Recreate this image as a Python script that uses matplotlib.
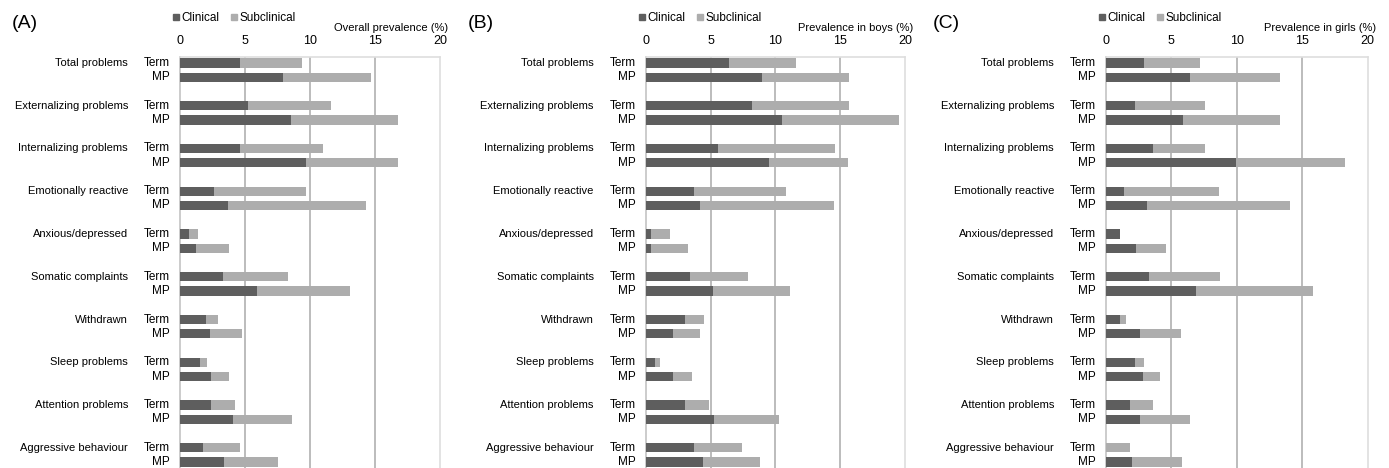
# === IMPORT LIBRARY ===
import numpy as np
import matplotlib
matplotlib.use("Agg")
import matplotlib.pyplot as plt
from matplotlib.lines import Line2D

plt.rcParams['font.family'] = ['Liberation Sans', 'DejaVu Sans']

# === DATA ===
categories = ["Total problems", "Externalizing problems", "Internalizing problems",
              "Emotionally reactive", "Anxious/depressed", "Somatic complaints",
              "Withdrawn", "Sleep problems", "Attention problems", "Aggressive behaviour"]
groups = ["Term", "MP"]
x_ticks = [0, 5, 10, 15, 20]

# (A) overall: clinical and total (clinical + subclinical)
overall_term_clin = [4.6, 5.2, 4.6, 2.6, 0.7, 3.3, 2.0, 1.5, 2.4, 1.8]
overall_term_tot = [9.4, 11.6, 11.0, 9.7, 1.4, 8.3, 2.9, 2.1, 4.2, 4.6]
overall_mp_clin = [7.9, 8.5, 9.7, 3.7, 1.2, 5.9, 2.3, 2.4, 4.1, 3.4]
overall_mp_tot = [14.7, 16.8, 16.8, 14.3, 3.8, 13.1, 4.8, 3.8, 8.6, 7.5]

# (B) boys
boys_term_clin = [6.4, 8.2, 5.6, 3.7, 0.4, 3.4, 3.0, 0.7, 3.0, 3.7]
boys_term_tot = [11.6, 15.7, 14.6, 10.8, 1.9, 7.9, 4.5, 1.1, 4.9, 7.4]
boys_mp_clin = [9.0, 10.5, 9.5, 4.2, 0.4, 5.2, 2.1, 2.1, 5.3, 4.4]
boys_mp_tot = [15.7, 19.5, 15.6, 14.5, 3.3, 11.1, 4.2, 3.6, 10.3, 8.8]

# (C) girls
girls_term_clin = [2.9, 2.2, 3.6, 1.4, 1.1, 3.3, 1.1, 2.2, 1.8, 0.0]
girls_term_tot = [7.2, 7.6, 7.6, 8.6, 1.1, 8.7, 1.5, 2.9, 3.6, 1.8]
girls_mp_clin = [6.4, 5.9, 9.9, 3.1, 2.3, 6.9, 2.6, 2.8, 2.6, 2.0]
girls_mp_tot = [13.3, 13.3, 18.3, 14.1, 4.6, 15.8, 5.7, 4.1, 6.4, 5.8]

panels = [
    ("(A)", "Overall prevalence (%)", overall_term_clin, overall_term_tot, overall_mp_clin, overall_mp_tot),
    ("(B)", "Prevalence in boys (%)", boys_term_clin, boys_term_tot, boys_mp_clin, boys_mp_tot),
    ("(C)", "Prevalence in girls (%)", girls_term_clin, girls_term_tot, girls_mp_clin, girls_mp_tot),
]

# === STYLE ===
c_clin = "#5e5e5e"
c_sub = "#adadad"
W, H = 1389, 468
ax_left = [180, 645.7, 1106]
ax_width = [260, 259.3, 261.7]
ax_top = 57
letter_x = [12, 468, 933]

fig = plt.figure(figsize=(W / 100, H / 100), dpi=100)

for k, (letter, title, t_clin, t_tot, m_clin, m_tot) in enumerate(panels):
    ax = fig.add_axes([ax_left[k] / W, 0, ax_width[k] / W, (H - ax_top) / H])

    n = len(categories)
    y_term = np.arange(n) * 3
    y_mp = y_term + 1
    t_clin = np.array(t_clin)
    m_clin = np.array(m_clin)
    t_sub = np.array(t_tot) - t_clin
    m_sub = np.array(m_tot) - m_clin

    bh = 0.64
    ax.barh(y_term, t_clin, height=bh, color=c_clin, zorder=3)
    ax.barh(y_term, t_sub, left=t_clin, height=bh, color=c_sub, zorder=3)
    ax.barh(y_mp, m_clin, height=bh, color=c_clin, zorder=3)
    ax.barh(y_mp, m_sub, left=m_clin, height=bh, color=c_sub, zorder=3)

    ax.set_xlim(0, 20)
    ax.set_ylim(3 * n - 2 + 0.42, -0.42)

    # axes: ticks on top, no y ticks
    ax.xaxis.tick_top()
    ax.set_xticks(x_ticks)
    ax.tick_params(axis='x', length=0, pad=7, labelsize=9)
    ax.set_yticks([])
    for x in [5, 10, 15]:
        ax.axvline(x, color="#b0b0b0", lw=1.2, zorder=1)
    ax.spines['bottom'].set_visible(False)
    ax.spines['left'].set_color("#c4c4c4")
    ax.spines['left'].set_linewidth(1.2)
    for s in ['top', 'right']:
        ax.spines[s].set_color("#dedede")
        ax.spines[s].set_linewidth(1.2)

    # category and group labels
    trans = ax.get_yaxis_transform()
    for i in range(n):
        ax.text(-52 / ax_width[k], y_term[i], categories[i], transform=trans,
                ha='right', va='center', fontsize=8)
        ax.text(-10 / ax_width[k], y_term[i], groups[0], transform=trans,
                ha='right', va='center', fontsize=8.5)
        ax.text(-10 / ax_width[k], y_mp[i], groups[1], transform=trans,
                ha='right', va='center', fontsize=8.5)

    # axis title, top right
    ax.text(1 + 8 / ax_width[k], 1 + (ax_top - 28) / (H - ax_top), title,
            transform=ax.transAxes, ha='right', va='center', fontsize=8)

    # legend
    handles = [Line2D([], [], marker='s', ls='none', color=c_clin, markersize=4.5, label="Clinical"),
               Line2D([], [], marker='s', ls='none', color=c_sub, markersize=4.5, label="Subclinical")]
    ax.legend(handles=handles, loc='center left', ncol=2, frameon=False, fontsize=8.5,
              bbox_to_anchor=(-7 / ax_width[k], 1 + (ax_top - 18) / (H - ax_top)),
              handlelength=0.5, handletextpad=0.2, columnspacing=1.0, borderpad=0, borderaxespad=0)

    fig.text(letter_x[k] / W, 1 - 24 / H, letter, ha='left', va='center', fontsize=14)

plt.savefig("out.png", dpi=100)
